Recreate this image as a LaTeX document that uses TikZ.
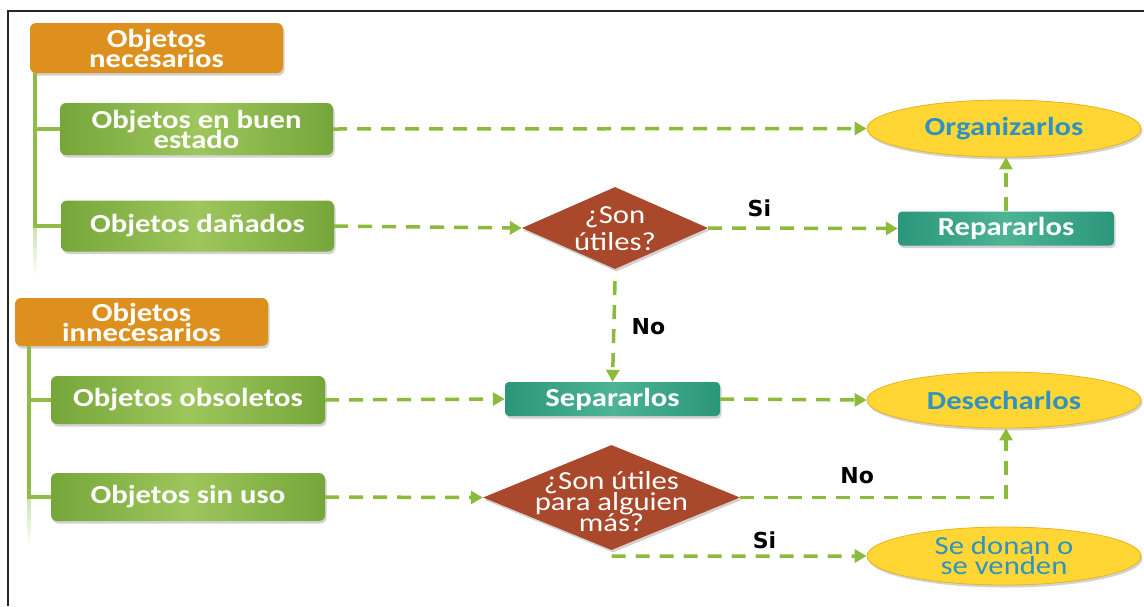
\documentclass[tikz,border=0pt]{standalone}
\usepackage{fontspec}
\setmainfont{Carlito}[FakeStretch=1.18]
\newfontfamily\labfont{DejaVu Sans}
\usetikzlibrary{shapes.geometric,shadows,arrows.meta}
\global\lineskiplimit=-50pt
\definecolor{orangebox}{HTML}{DE901F}
\definecolor{gdark}{HTML}{76A63A}
\definecolor{glight}{HTML}{9DC65C}
\definecolor{tdark}{HTML}{2A967A}
\definecolor{tlight}{HTML}{4DB495}
\definecolor{yell}{HTML}{FFD633}
\definecolor{yedge}{HTML}{E8B41E}
\definecolor{brick}{HTML}{A9482A}
\definecolor{flowc}{HTML}{8CBB3C}
\definecolor{treec}{HTML}{8DBD48}
\definecolor{elltext}{HTML}{2F92C0}
\tikzset{
  shad/.style={drop shadow={opacity=0.35,shadow xshift=1.5pt,shadow yshift=-2.5pt}},
  boxfont/.style={font=\fontsize{26}{20}\selectfont\bfseries},
  orbox/.style={shad,rounded corners=6pt,fill=orangebox,inner sep=0pt,align=center,text=white,boxfont},
  gbox/.style={shad,rounded corners=6pt,left color=gdark,right color=gdark,middle color=glight,inner sep=0pt,align=center,text=white,boxfont},
  tbox/.style={shad,rounded corners=4pt,left color=tdark,right color=tdark,middle color=tlight,inner sep=0pt,align=center,text=white,boxfont,minimum height=34pt},
  ell/.style={shad,ellipse,fill=yell,draw=yedge,line width=0.8pt,inner sep=0pt,align=center,text=elltext,minimum width=274pt},
  diam/.style={shad,diamond,fill=brick,inner sep=0pt},
  dtext/.style={text=white,align=center,font=\fontsize{26}{21}\selectfont},
  flow/.style={draw=flowc,line width=3.5pt,dash pattern=on 14pt off 10pt,-{Triangle[length=12pt,width=13pt]}},
  tree/.style={draw=treec,line width=3.5pt},
  lab/.style={text=black,font=\labfont\fontsize{22}{24}\selectfont\bfseries,inner sep=0pt}
}
\begin{document}
\begin{tikzpicture}[x=1pt,y=-1pt]
\useasboundingbox (0,0) rectangle (1144,606);
\fill[white] (0,0) rectangle (1144,606);
\draw[black!85,line width=1.5pt] (1144,11) -- (8,11) -- (8,606);

% left column
\node[orbox,minimum width=253pt,minimum height=50pt] (nec) at (156.5,48) {Objetos\\necesarios};
\node[gbox,minimum width=273pt,minimum height=52pt] (buen) at (196.5,129) {Objetos en buen\\estado};
\node[gbox,minimum width=273pt,minimum height=51pt] (dan) at (197.5,226) {Objetos dañados};
\node[orbox,minimum width=253pt,minimum height=48pt] (inn) at (141.5,322) {Objetos\\innecesarios};
\node[gbox,minimum width=274pt,minimum height=48pt] (obs) at (188,400) {Objetos obsoletos};
\node[gbox,minimum width=274pt,minimum height=48pt] (sin) at (188,497) {Objetos sin uso};

% tree lines
\shade[top color=treec!45,bottom color=white] (33.2,226) rectangle (36.8,275);
\shade[top color=treec!45,bottom color=white] (27.2,497) rectangle (30.8,545);
\draw[tree] ([xshift=5pt]nec.south west) |- (dan.west);
\draw[tree] ([xshift=5pt]nec.south west) |- (buen.west);
\draw[tree] ([xshift=14pt]inn.south west) |- (sin.west);
\draw[tree] ([xshift=14pt]inn.south west) |- (obs.west);

% decisions and actions
\node[diam,minimum width=186pt,minimum height=82pt,label={[dtext,font=\fontsize{26}{27}\selectfont,yshift=-1pt]center:¿Son\\útiles?}] (d1) at (615,228) {};
\node[tbox,minimum width=216pt] (rep) at (1006,228.5) {Repararlos};
\node[ell,minimum height=57pt,font=\fontsize{26}{20}\selectfont\bfseries] (org) at (1004,128.5) {Organizarlos};
\node[tbox,minimum width=215pt] (sep) at (612.5,399) {Separarlos};
\node[ell,minimum height=56pt,font=\fontsize{26}{20}\selectfont\bfseries] (des) at (1004,400) {Desecharlos};
\node[diam,minimum width=257pt,minimum height=105pt,label={[dtext,yshift=-4pt]center:¿Son útiles\\para alguien\\más?}] (d2) at (611.5,497.5) {};
\node[ell,minimum height=58pt,font=\fontsize{26}{20}\selectfont] (don) at (1004,556) {Se donan o\\se venden};

% connectors
\draw[flow] (buen.east) -- (org.west);
\draw[flow] (dan.east) -- (d1.west);
\draw[flow] (d1.east) -- node[lab,pos=0.27,above=10pt] (si1) {Si} (rep.west);
\draw[flow] ([yshift=-12pt]d1.south) -- node[lab,right=16pt,pos=0.45] (no1) {No} (sep.north);
\draw[flow] (rep.north) -- (rep.north |- org.south);
\draw[flow] (obs.east) -- (sep.west);
\draw[flow] (sep.east) -- (des.west);
\draw[flow] (sin.east) -- (d2.west);
\draw[flow] (d2.east) -| node[lab,pos=0.22,above=12pt] (no2) {No} ([xshift=2pt]des.south);
\draw[flow] ([yshift=-6pt]d2.south) -- node[lab,pos=0.6,above=6pt] (si2) {Si} (don.west);
\end{tikzpicture}
\end{document}
